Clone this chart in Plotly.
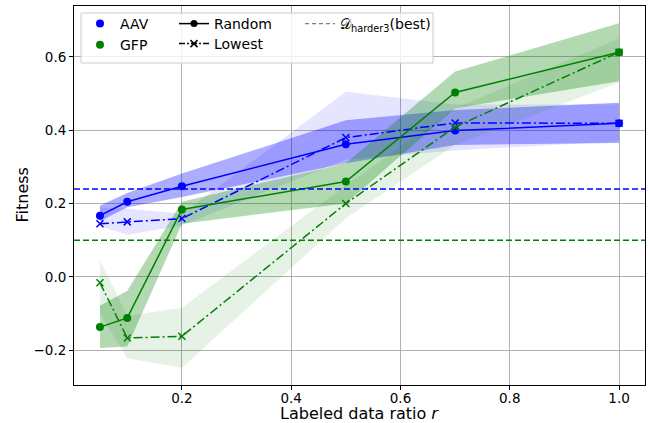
import plotly.graph_objects as go

# ---------------- data ----------------
ratios = [0.05, 0.1, 0.2, 0.5, 0.7, 1.0]

aav_random = [0.167, 0.205, 0.247, 0.362, 0.399, 0.419]
aav_random_lo = [0.152, 0.190, 0.218, 0.310, 0.360, 0.365]
aav_random_hi = [0.195, 0.229, 0.282, 0.427, 0.455, 0.475]

aav_lowest = [0.145, 0.150, 0.159, 0.380, 0.420, 0.419]
aav_lowest_lo = [0.138, 0.115, 0.140, 0.320, 0.345, 0.370]
aav_lowest_hi = [0.190, 0.186, 0.172, 0.505, 0.470, 0.470]

gfp_random = [-0.137, -0.112, 0.184, 0.260, 0.503, 0.613]
gfp_random_lo = [-0.194, -0.190, 0.145, 0.200, 0.460, 0.534]
gfp_random_hi = [-0.079, -0.038, 0.205, 0.310, 0.560, 0.692]

gfp_lowest = [-0.016, -0.167, -0.162, 0.200, 0.409, 0.613]
gfp_lowest_lo = [-0.100, -0.222, -0.248, 0.160, 0.360, 0.530]
gfp_lowest_hi = [0.046, -0.107, -0.084, 0.250, 0.460, 0.650]

best_aav = 0.24
best_gfp = 0.10

x_ticks = [0.2, 0.4, 0.6, 0.8, 1.0]
y_ticks = [-0.2, 0.0, 0.2, 0.4, 0.6]

x_title = "Labeled data ratio <i>r</i>"
y_title = "Fitness"

BLUE = "#0000ff"
GREEN = "#008000"
FONT = "DejaVu Sans"
DASHDOT = "9px,3px,2px,3px"
MS = 8

fig = go.Figure()


def band(lo, hi, rgba):
    fig.add_trace(go.Scatter(x=ratios, y=lo, mode="lines", line=dict(width=0),
                             showlegend=False, hoverinfo="skip"))
    fig.add_trace(go.Scatter(x=ratios, y=hi, mode="lines", line=dict(width=0),
                             fill="tonexty", fillcolor=rgba,
                             showlegend=False, hoverinfo="skip"))


band(aav_random_lo, aav_random_hi, "rgba(0,0,255,0.32)")
band(aav_lowest_lo, aav_lowest_hi, "rgba(0,0,255,0.10)")
band(gfp_random_lo, gfp_random_hi, "rgba(0,128,0,0.30)")
band(gfp_lowest_lo, gfp_lowest_hi, "rgba(0,128,0,0.10)")


def series(y, color, lowest):
    if lowest:
        fig.add_trace(go.Scatter(
            x=ratios, y=y, mode="lines+markers",
            line=dict(color=color, width=1.5, dash=DASHDOT),
            marker=dict(symbol="x-thin", size=MS - 1, line=dict(color=color, width=1.5)),
            showlegend=False))
    else:
        fig.add_trace(go.Scatter(
            x=ratios, y=y, mode="lines+markers",
            line=dict(color=color, width=1.5),
            marker=dict(symbol="circle", size=MS, color=color),
            showlegend=False))


series(aav_random, BLUE, False)
series(aav_lowest, BLUE, True)
series(gfp_random, GREEN, False)
series(gfp_lowest, GREEN, True)

# ---------------- legend entries ----------------
fig.add_trace(go.Scatter(x=[None], y=[None], mode="markers", name="AAV",
                         marker=dict(color=BLUE, size=MS), legend="legend"))
fig.add_trace(go.Scatter(x=[None], y=[None], mode="markers", name="GFP",
                         marker=dict(color=GREEN, size=MS), legend="legend"))
fig.add_trace(go.Scatter(x=[None], y=[None], mode="lines+markers", name="Random",
                         line=dict(color="black", width=1.5),
                         marker=dict(color="black", size=MS - 1), legend="legend2"))
fig.add_trace(go.Scatter(x=[None], y=[None], mode="lines+markers", name="Lowest",
                         line=dict(color="black", width=1.5, dash="6px,2px,2px,2px"),
                         marker=dict(symbol="x-thin", size=MS - 1, line=dict(color="black", width=1.5)),
                         legend="legend3"))
fig.add_trace(go.Scatter(x=[None], y=[None], mode="lines",
                         name="𝒟<sub>harder3</sub>(best)",
                         line=dict(color="gray", width=1.2, dash="4px,3px"),
                         legend="legend4"))

W, H = 649, 423
L, R, T, B = 74, 4, 6, 38
pw, ph = W - L - R, H - T - B


def px_x(p):
    return (p - L) / pw


def px_y(p):
    return (H - B - p) / ph


leg_common = dict(xref="paper", yref="paper", xanchor="left", yanchor="top",
                  bgcolor="rgba(0,0,0,0)", borderwidth=0, traceorder="normal",
                  font=dict(family=FONT, size=14, color="black"),
                  itemclick=False, tracegroupgap=0)

fig.update_layout(
    width=W, height=H,
    margin=dict(l=L, r=R, t=T, b=B, autoexpand=False),
    paper_bgcolor="white", plot_bgcolor="white",
    font=dict(family=FONT, size=14, color="black"),
    legend=dict(x=px_x(80), y=px_y(8), **leg_common),
    legend2=dict(x=px_x(174), y=px_y(8), **leg_common),
    legend3=dict(x=px_x(174), y=px_y(28), **leg_common),
    legend4=dict(x=px_x(300), y=px_y(8), **leg_common),
    xaxis=dict(range=[0.0025, 1.0475], tickvals=x_ticks, tickformat=".1f",
               showgrid=True, gridcolor="#b0b0b0", gridwidth=1, zeroline=False,
               showline=True, linecolor="black", linewidth=1, mirror=True,
               ticks="outside", ticklen=4, tickcolor="black", ticklabelstandoff=-3,
               tickfont=dict(family=FONT, size=13.5)),
    yaxis=dict(range=[-0.295, 0.739], tickvals=y_ticks, tickformat=".1f",
               showgrid=True, gridcolor="#b0b0b0", gridwidth=1, zeroline=False,
               showline=True, linecolor="black", linewidth=1, mirror=True,
               ticks="outside", ticklen=4, tickcolor="black",
               tickfont=dict(family=FONT, size=13.5)),
    annotations=[
        dict(text=x_title, xref="paper", yref="paper", x=0.5, y=px_y(413),
             xanchor="center", yanchor="middle", showarrow=False,
             font=dict(family=FONT, size=16, color="black")),
        dict(text=y_title, xref="paper", yref="paper", x=px_x(22), y=0.5,
             xanchor="center", yanchor="middle", showarrow=False, textangle=-90,
             font=dict(family=FONT, size=16, color="black")),
    ],
)

fig.add_hline(y=best_aav, line=dict(color=BLUE, width=1.5, dash="6px,3px"))
fig.add_hline(y=best_gfp, line=dict(color=GREEN, width=1.5, dash="6px,3px"))
fig.add_shape(type="rect", xref="paper", yref="paper",
              x0=px_x(81), x1=px_x(433), y0=px_y(63), y1=px_y(13),
              line=dict(color="#cccccc", width=1, dash="solid"),
              fillcolor="rgba(255,255,255,0.8)", layer="above")

fig.write_html("out.html",
               config={"displayModeBar": False},
               post_script="document.body.style.margin='0px';"
                           "document.body.style.overflow='hidden';")
